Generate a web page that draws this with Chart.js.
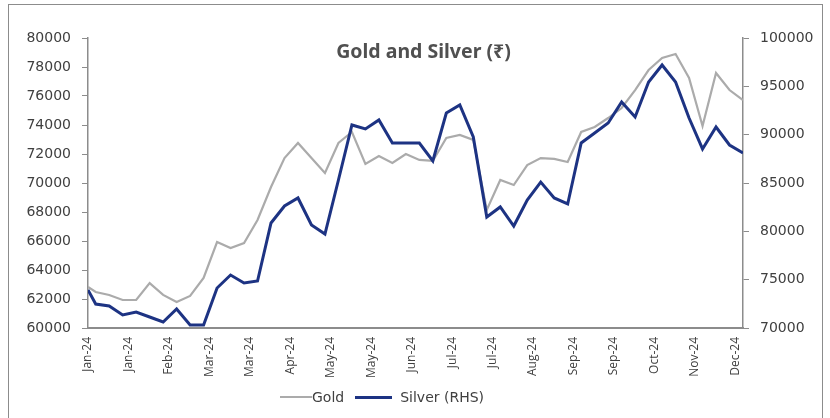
<!DOCTYPE html>
<html>
<head>
<meta charset="utf-8">
<script src="https://cdn.jsdelivr.net/npm/chart.js@4.4.1/dist/chart.umd.min.js"></script>
<style>
  body { margin: 0; width: 830px; height: 418px; overflow: hidden; background: #fff; position: relative; }
  #marco { position: absolute; left: 8px; top: 4px; width: 815px; height: 440px; border: 1px solid #8c8c8c; box-sizing: border-box; }
  #grafica { position: absolute; left: 0; top: 0; }
  #titulo { position: absolute; left: 0; top: 37px; width: 847px; text-align: center;
            font: bold 19.5px "Noto Sans", sans-serif; color: #505050; line-height: 28px; }
  #leyenda { position: absolute; left: 280px; top: 387px; height: 20px; display: flex; align-items: center;
             font: 14px "DejaVu Sans", sans-serif; color: #404040; }
  #leyenda .linea { display: inline-block; }
</style>
</head>
<body>
<div id="marco"></div>
<canvas id="grafica" width="830" height="418"></canvas>
<div id="titulo">Gold and Silver (₹)</div>
<div id="leyenda"></div>
<script>
// weekly closing prices (Friday), first value is 1 Jan
const fechas = ['2024-01-01','2024-01-05','2024-01-12','2024-01-19','2024-01-26',
    '2024-02-02','2024-02-09','2024-02-16','2024-02-23','2024-03-01','2024-03-08',
    '2024-03-15','2024-03-22','2024-03-29','2024-04-05','2024-04-12','2024-04-19',
    '2024-04-26','2024-05-03','2024-05-10','2024-05-17','2024-05-24','2024-05-31',
    '2024-06-07','2024-06-14','2024-06-21','2024-06-28','2024-07-05','2024-07-12',
    '2024-07-19','2024-07-26','2024-08-02','2024-08-09','2024-08-16','2024-08-23',
    '2024-08-30','2024-09-06','2024-09-13','2024-09-20','2024-09-27','2024-10-04',
    '2024-10-11','2024-10-18','2024-10-25','2024-11-01','2024-11-08','2024-11-15',
    '2024-11-22','2024-11-29','2024-12-06'];

const oro = [62830, 62480, 62280, 61930, 61930, 63100, 62280, 61790, 62210, 63450,
    65930, 65520, 65860, 67450, 69720, 71720, 72760, 71720, 70690, 72760,
    73520, 71310, 71860, 71380, 72000, 71590, 71520, 73100, 73310, 72970,
    68140, 70210, 69860, 71240, 71720, 71660, 71450, 73520, 73860, 74480,
    75170, 76410, 77790, 78620, 78900, 77240, 73930, 77590, 76410, 75720];

const plata = [73930, 72480, 72280, 71350, 71650, 71140, 70620, 71970, 70310, 70310,
    74140, 75480, 74660, 74860, 80860, 82620, 83450, 80660, 79720, 85310,
    91000, 90590, 91520, 89140, 89140, 89140, 87280, 92240, 93070, 89760,
    81480, 82520, 80550, 83240, 85100, 83450, 82830, 89140, 90170, 91210,
    93380, 91830, 95450, 97210, 95450, 91720, 88520, 90790, 88930, 88100];

// x axis labels every three weeks
const fechasEje = ['2024-01-01','2024-01-22','2024-02-12','2024-03-04','2024-03-25',
    '2024-04-15','2024-05-06','2024-05-27','2024-06-17','2024-07-08','2024-07-29',
    '2024-08-19','2024-09-09','2024-09-30','2024-10-21','2024-11-11','2024-12-02'];

const meses = ['Jan','Feb','Mar','Apr','May','Jun','Jul','Aug','Sep','Oct','Nov','Dec'];

const inicio = Date.parse(fechas[0]);
const dia = function (f) { return (Date.parse(f) - inicio) / 86400000; };
const etiqueta = function (f) {
    const d = new Date(f);
    return meses[d.getUTCMonth()] + '-' + String(d.getUTCFullYear()).slice(2);
};

const gris = '#8c8c8c';
const texto = '#404040';

const datos = {
    datasets: [
        {
            label: 'Gold',
            data: fechas.map(function (f, i) { return {x: dia(f), y: oro[i]}; }),
            borderColor: '#ababab',
            borderWidth: 2.2,
            yAxisID: 'y',
            order: 2
        }, {
            label: 'Silver (RHS)',
            data: fechas.map(function (f, i) { return {x: dia(f), y: plata[i]}; }),
            borderColor: '#1d3383',
            borderWidth: 3,
            yAxisID: 'y1',
            order: 1
        }
    ]
};

const ejeY = function (ancho, min, max, paso, posicion) {
    return {
        type: 'linear',
        position: posicion,
        min: min,
        max: max,
        afterFit: function (eje) { eje.width = ancho; },
        grid: {drawOnChartArea: false, drawTicks: true, tickLength: 6, color: gris},
        border: {display: true, color: gris, width: 1.5},
        ticks: {
            stepSize: paso,
            padding: 11,
            color: texto,
            font: {family: 'DejaVu Sans', size: 14},
            callback: function (v) { return String(v); }
        }
    };
};

const opciones = {
    responsive: false,
    animation: false,
    devicePixelRatio: 1,
    layout: {padding: {top: 38, bottom: 0, left: 0, right: 0}},
    elements: {point: {radius: 0}, line: {tension: 0}},
    plugins: {legend: {display: false}, tooltip: {enabled: false}},
    scales: {
        x: {
            type: 'linear',
            min: dia(fechas[0]),
            max: dia(fechas[fechas.length - 1]),
            afterFit: function (eje) { eje.height = 90; },
            afterBuildTicks: function (eje) {
                eje.ticks = fechasEje.map(function (f) { return {value: dia(f)}; });
            },
            grid: {display: false, drawTicks: false},
            border: {display: true, color: gris, width: 2},
            ticks: {
                autoSkip: false,
                minRotation: 90,
                maxRotation: 90,
                padding: 9,
                color: texto,
                font: {family: 'Open Sans', size: 12},
                callback: function (v, i) { return etiqueta(fechasEje[i]); }
            }
        },
        y: ejeY(88, 60000, 80000, 2000, 'left'),
        y1: ejeY(87, 70000, 100000, 5000, 'right')
    }
};

const ctx = document.getElementById('grafica').getContext('2d');
new Chart(ctx, {type: 'line', data: datos, options: opciones});

// legend under the axis, built from the datasets
const leyenda = document.getElementById('leyenda');
const largos = [32, 37];
datos.datasets.forEach(function (ds, i) {
    const linea = document.createElement('span');
    linea.className = 'linea';
    linea.style.width = largos[i] + 'px';
    linea.style.height = Math.round(ds.borderWidth) + 'px';
    linea.style.background = ds.borderColor;
    linea.style.marginLeft = i ? '11px' : '0';
    linea.style.marginRight = i ? '8px' : '0';
    const nombre = document.createElement('span');
    nombre.textContent = ds.label;
    leyenda.appendChild(linea);
    leyenda.appendChild(nombre);
});
</script>
</body>
</html>
